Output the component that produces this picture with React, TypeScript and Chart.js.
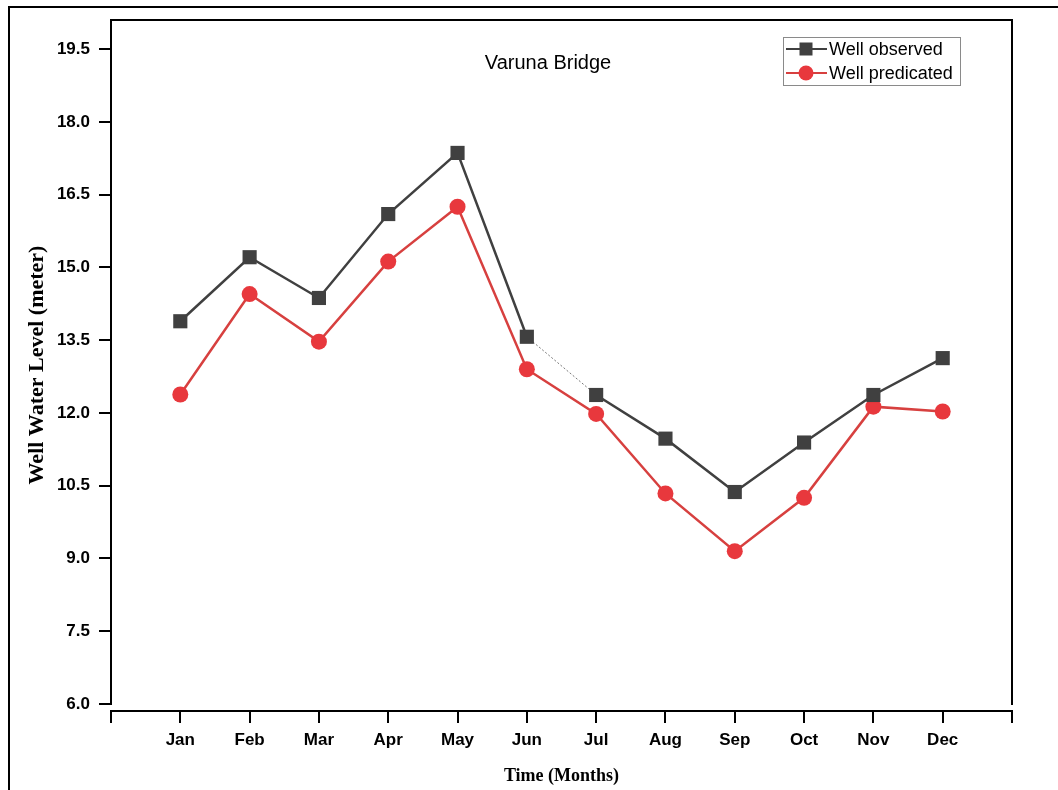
import React, { useEffect, useRef } from "react";
import { Chart, registerables } from "chart.js";

Chart.register(...registerables);

const months = ["Jan", "Feb", "Mar", "Apr", "May", "Jun", "Jul", "Aug", "Sep", "Oct", "Nov", "Dec"];
const monthPos = [1, 2, 3, 4, 5, 6, 7, 8, 9, 10, 11, 12];
const observed = [13.89, 15.21, 14.37, 16.1, 17.36, 13.57, 12.37, 11.47, 10.37, 11.39, 12.37, 13.13];
const predicted = [12.38, 14.45, 13.47, 15.12, 16.25, 12.9, 11.98, 10.34, 9.15, 10.25, 12.13, 12.03];
const yTicks = [6.0, 7.5, 9.0, 10.5, 12.0, 13.5, 15.0, 16.5, 18.0, 19.5];
const xTicks = [0, 1, 2, 3, 4, 5, 6, 7, 8, 9, 10, 11, 12, 13];

const GRAY = "#404040";
const RED = "#e8383d";
const RED_LINE = "#d7403f";

const decorPlugin = {
  id: "decor",
  beforeDraw(chart: any) {
    const ctx = chart.ctx;
    ctx.save();
    ctx.fillStyle = "#ffffff";
    ctx.fillRect(0, 0, chart.width, chart.height);
    ctx.strokeStyle = "#000";
    ctx.lineWidth = 2;
    ctx.strokeRect(9, 7, 1200, 1000);
    ctx.restore();
  },
  afterDraw(chart: any) {
    const ctx = chart.ctx;
    const { left, right, top, bottom } = chart.chartArea;
    const xs = chart.scales.x;
    const ys = chart.scales.y;
    ctx.save();
    ctx.strokeStyle = "#000";
    ctx.lineWidth = 2;
    ctx.lineCap = "butt";
    // left axis
    ctx.beginPath();
    ctx.moveTo(left, top - 1);
    ctx.lineTo(left, bottom + 1);
    // top line
    ctx.moveTo(left - 1, top);
    ctx.lineTo(right + 1, top);
    // right line
    ctx.moveTo(right, top - 1);
    ctx.lineTo(right, bottom + 1);
    ctx.stroke();
    // y ticks
    ctx.beginPath();
    yTicks.forEach((v) => {
      const py = Math.round(ys.getPixelForValue(v));
      ctx.moveTo(left - 12, py);
      ctx.lineTo(left, py);
    });
    ctx.stroke();
    // offset x axis
    const ay = bottom + 7;
    ctx.beginPath();
    ctx.moveTo(left - 1, ay);
    ctx.lineTo(right + 1, ay);
    xTicks.forEach((v) => {
      const px = Math.round(xs.getPixelForValue(v));
      ctx.moveTo(px, ay);
      ctx.lineTo(px, ay + 12);
    });
    ctx.stroke();

    // axis titles
    ctx.fillStyle = "#000";
    ctx.font = "bold 22px 'Liberation Serif', 'Times New Roman', serif";
    ctx.textAlign = "center";
    ctx.textBaseline = "middle";
    ctx.save();
    ctx.translate(37, 365);
    ctx.rotate(-Math.PI / 2);
    ctx.fillText("Well Water Level (meter)", 0, 0);
    ctx.restore();
    ctx.font = "bold 18px 'Liberation Serif', 'Times New Roman', serif";
    ctx.fillText("Time (Months)", (left + right) / 2, 776);

    // chart title
    ctx.font = "20px 'Liberation Sans', Arial, sans-serif";
    ctx.fillText("Varuna Bridge", 548, 63);

    // legend
    const bx = 783, by = 37, bw = 177, bh = 48;
    ctx.lineWidth = 1;
    ctx.strokeStyle = "#8a8a8a";
    ctx.strokeRect(bx + 0.5, by + 0.5, bw, bh);
    const rows = [
      { label: "Well observed", color: GRAY, line: GRAY, shape: "rect", y: 49 },
      { label: "Well predicated", color: RED, line: RED_LINE, shape: "circle", y: 73 },
    ];
    rows.forEach((r) => {
      ctx.strokeStyle = r.line;
      ctx.lineWidth = 2;
      ctx.beginPath();
      ctx.moveTo(786, r.y);
      ctx.lineTo(827, r.y);
      ctx.stroke();
      ctx.fillStyle = r.color;
      if (r.shape === "rect") {
        ctx.fillRect(806 - 6.5, r.y - 6.5, 13, 13);
      } else {
        ctx.beginPath();
        ctx.arc(806, r.y, 7.5, 0, Math.PI * 2);
        ctx.fill();
      }
      ctx.fillStyle = "#000";
      ctx.font = "18px 'Liberation Sans', Arial, sans-serif";
      ctx.textAlign = "left";
      ctx.textBaseline = "middle";
      ctx.fillText(r.label, 829, r.y + 1);
    });
    ctx.restore();
  },
};

export default function App() {
  const ref = useRef<HTMLCanvasElement | null>(null);
  useEffect(() => {
    if (!ref.current) return;
    const chart = new Chart(ref.current, {
      type: "line",
      data: {
        datasets: [
          {
            label: "Well observed",
            data: monthPos.map((x, i) => ({ x, y: observed[i] })),
            borderColor: GRAY,
            backgroundColor: GRAY,
            borderWidth: 2.5,
            pointStyle: "rect",
            pointRadius: 10,
            pointBorderWidth: 0,
            pointBackgroundColor: GRAY,
            tension: 0,
            segment: {
              borderWidth: (c: any) => (c.p0DataIndex === 5 ? 1 : 2.5),
              borderDash: (c: any) => (c.p0DataIndex === 5 ? [2, 2] : undefined),
              borderColor: (c: any) => (c.p0DataIndex === 5 ? "#7a7a7a" : GRAY),
            },
          },
          {
            label: "Well predicated",
            data: monthPos.map((x, i) => ({ x, y: predicted[i] })),
            borderColor: RED_LINE,
            backgroundColor: RED,
            borderWidth: 2.5,
            pointStyle: "circle",
            pointRadius: 8,
            pointBorderWidth: 0,
            pointBackgroundColor: RED,
            tension: 0,
          },
        ],
      },
      options: {
        animation: false,
        responsive: false,
        devicePixelRatio: 1,
        layout: { padding: { top: 20, right: 46, left: 0, bottom: 0 } },
        plugins: {
          legend: { display: false },
          title: { display: false },
          tooltip: { enabled: false },
        },
        scales: {
          x: {
            type: "linear",
            min: 0,
            max: 13,
            grid: { display: false, drawTicks: false },
            border: { display: false },
            afterFit: (s: any) => {
              s.height = 86;
              s.paddingLeft = 0;
              s.paddingRight = 0;
            },
            afterBuildTicks: (s: any) => {
              s.ticks = xTicks.map((v) => ({ value: v }));
            },
            ticks: {
              autoSkip: false,
              maxRotation: 0,
              padding: 26,
              color: "#000",
              font: { family: "'Liberation Sans', Arial, sans-serif", size: 17, weight: "bold" },
              callback: (v: any) => (v >= 1 && v <= 12 ? months[v - 1] : ""),
            },
          },
          y: {
            type: "linear",
            min: 6,
            max: 20.1,
            grid: { display: false, drawTicks: false },
            border: { display: false },
            afterFit: (s: any) => {
              s.width = 111;
              s.paddingTop = 0;
              s.paddingBottom = 0;
            },
            afterBuildTicks: (s: any) => {
              s.ticks = yTicks.map((v) => ({ value: v }));
            },
            ticks: {
              autoSkip: false,
              padding: 21,
              color: "#000",
              font: { family: "'Liberation Sans', Arial, sans-serif", size: 17, weight: "bold" },
              callback: (v: any) => Number(v).toFixed(1),
            },
          },
        },
      },
      plugins: [decorPlugin],
    } as any);
    return () => chart.destroy();
  }, []);
  return (
    <div style={{ position: "absolute", left: 0, top: 0, width: 1058, height: 790, overflow: "hidden" }}>
      <canvas ref={ref} width={1058} height={790} style={{ display: "block", width: 1058, height: 790 }} />
    </div>
  );
}
